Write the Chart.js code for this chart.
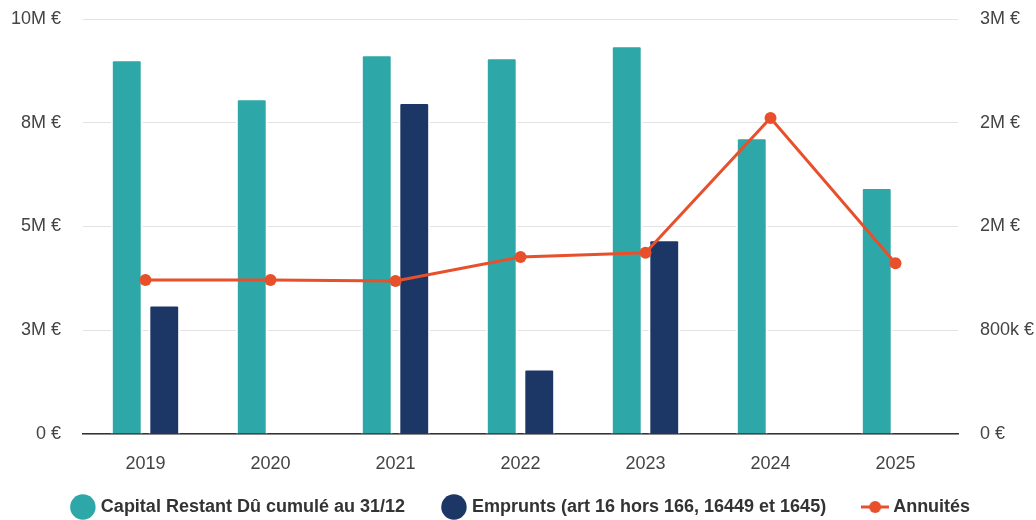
<!DOCTYPE html>
<html>
<head>
<meta charset="utf-8">
<script src="https://cdn.jsdelivr.net/npm/chart.js@4.4.1/dist/chart.umd.min.js"></script>
<style>
  html, body { margin:0; padding:0; background:#fff; }
  #wrap { width:1036px; height:520px; }
</style>
</head>
<body>
<div id="wrap"><canvas id="chart"></canvas></div>
<script>
const years = ["2019","2020","2021","2022","2023","2024","2025"];
const capitalRestant = [9.03e6, 8.09e6, 9.15e6, 9.08e6, 9.37e6, 7.15e6, 5.95e6];
const emprunts = [3.12e6, 0, 8.0e6, 1.58e6, 4.69e6, 0, 0];
const annuites = [1.113e6, 1.113e6, 1.106e6, 1.28e6, 1.31e6, 2.285e6, 1.235e6];

const leftTicks = ["0 €","3M €","5M €","8M €","10M €"];
const rightTicks = ["0 €","800k €","2M €","2M €","3M €"];

const teal = "#2ea7a9";
const navy = "#1c3766";
const orange = "#e8502b";

// little line + dot icon for the legend
function lineIcon(){
  const c = document.createElement("canvas");
  c.width = 28; c.height = 14;
  const g = c.getContext("2d");
  g.strokeStyle = orange; g.lineWidth = 3;
  g.beginPath(); g.moveTo(0,7); g.lineTo(28,7); g.stroke();
  g.fillStyle = orange;
  g.beginPath(); g.arc(14,7,6,0,Math.PI*2); g.fill();
  return c;
}
const annIcon = lineIcon();

// legend keeps wide gaps between items but takes less height
const legendFix = {
  id:"legendFix",
  beforeLayout(chart){
    const lg = chart.legend;
    if(!lg || lg._patched) return;
    lg._patched = true;
    const fit = lg.fit, draw = lg._draw;
    lg.fit = function(){ fit.call(this); this.height = 45; };
    lg._draw = function(){
      const c = this.ctx;
      c.save(); c.translate(0,-17); draw.call(this); c.restore();
    };
  }
};

const font = "'Liberation Sans', Arial, sans-serif";

function fitY(width){
  return scale => { scale.width = width; scale.paddingTop = 19; scale.paddingBottom = 0; };
}

new Chart(document.getElementById("chart"),{
  data:{
    labels:years,
    datasets:[
      {
        type:"bar",
        label:"Capital Restant Dû cumulé au 31/12",
        data:capitalRestant,
        backgroundColor:teal,
        borderColor:"#ffffff",
        borderWidth:2,
        borderRadius:3,
        yAxisID:"y",
        order:1,
        categoryPercentage:0.6,
        barPercentage:0.85
      },
      {
        type:"bar",
        label:"Emprunts (art 16 hors 166, 16449 et 1645)",
        data:emprunts,
        backgroundColor:navy,
        borderColor:"#ffffff",
        borderWidth:2,
        borderRadius:3,
        yAxisID:"y",
        order:1,
        categoryPercentage:0.6,
        barPercentage:0.85
      },
      {
        type:"line",
        label:"Annuités",
        data:annuites,
        borderColor:orange,
        backgroundColor:orange,
        borderWidth:3,
        pointRadius:6,
        pointBackgroundColor:orange,
        pointBorderWidth:0,
        tension:0,
        yAxisID:"y1",
        order:0
      }
    ]
  },
  plugins:[legendFix],
  options:{
    responsive:true,
    maintainAspectRatio:false,
    animation:false,
    layout:{ autoPadding:false, padding:{ top:0, left:8, right:0, bottom:0 } },
    plugins:{
      tooltip:{ enabled:false },
      legend:{
        position:"bottom",
        labels:{
          usePointStyle:true,
          boxWidth:18,
          boxHeight:18,
          padding:40,
          color:"#333",
          font:{ family:font, size:18, weight:"bold" },
          generateLabels(chart){
            return chart.data.datasets.map((ds,i)=>({
              text:ds.label,
              fillStyle:ds.backgroundColor,
              strokeStyle:ds.backgroundColor,
              fontColor:"#333",
              lineWidth:0,
              pointStyle: ds.type==="line" ? annIcon : "circle",
              datasetIndex:i,
              hidden:false
            }));
          }
        }
      }
    },
    scales:{
      x:{
        afterFit(scale){ scale.height = 41; },
        grid:{ display:false, drawTicks:false },
        border:{ display:true, color:"#333", width:1.5 },
        ticks:{ color:"#444", padding:19, font:{ family:font, size:18 } }
      },
      y:{
        position:"left",
        min:0, max:10e6,
        afterFit:fitY(75),
        ticks:{
          stepSize:2.5e6,
          color:"#444",
          padding:22,
          font:{ family:font, size:18 },
          callback:(v,i)=>leftTicks[i]
        },
        grid:{ color:"#e3e3e3", drawTicks:false },
        border:{ display:false }
      },
      y1:{
        position:"right",
        min:0, max:3e6,
        afterFit:fitY(78),
        ticks:{
          stepSize:0.75e6,
          color:"#444",
          padding:22,
          font:{ family:font, size:18 },
          callback:(v,i)=>rightTicks[i]
        },
        grid:{ display:false, drawTicks:false },
        border:{ display:false }
      }
    }
  }
});
</script>
</body>
</html>
